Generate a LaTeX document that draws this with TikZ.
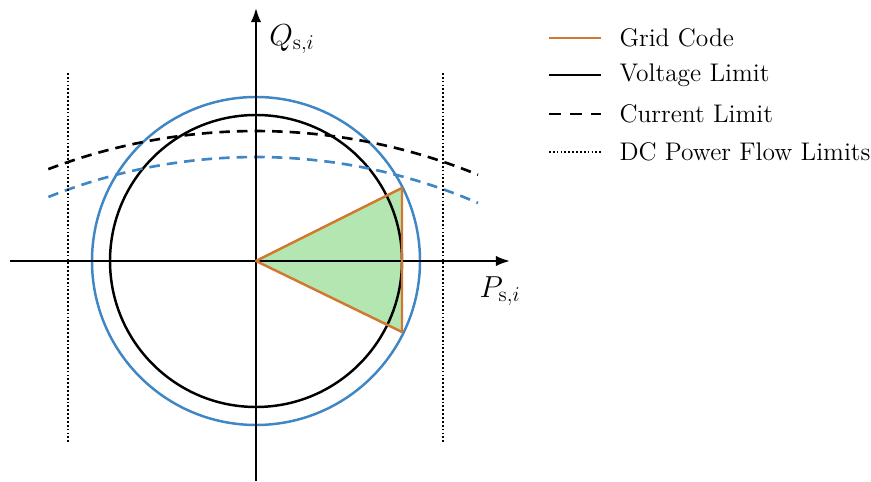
\documentclass[tikz,border=0pt]{standalone}
\usetikzlibrary{arrows.meta}
\definecolor{gcorange}{RGB}{210,119,47}
\definecolor{limblue}{RGB}{63,134,197}
\definecolor{gcgreen}{RGB}{179,230,176}
\begin{document}
\begin{tikzpicture}[line join=round,font=\fontsize{14.5}{17}\selectfont]
  \useasboundingbox (-5.12,-4.40) rectangle (12.30,5.22);
  \coordinate (O) at (0,0);
  \coordinate (U) at (2.92,1.46);
  \coordinate (L) at (2.92,-1.42);
  \coordinate (M) at (0,-9.10);
  \fill[gcgreen] (O) -- (U) -- (L) -- cycle;
  \draw[line width=1.4pt] (O) circle (2.92);
  \draw[limblue,line width=1.4pt] (O) circle (3.28);
  \draw[line width=1.5pt,dash pattern=on 6pt off 4pt] ([shift={(110.8:11.70)}]M) arc[start angle=110.8,end angle=67.7,radius=11.70];
  \draw[limblue,line width=1.5pt,dash pattern=on 6pt off 4pt] ([shift={(111.8:11.18)}]M) arc[start angle=111.8,end angle=66.6,radius=11.18];
  \draw[line width=1.2pt,dash pattern=on 1pt off 1.2pt] (-3.76,3.76) -- (-3.76,-3.64);
  \draw[line width=1.2pt,dash pattern=on 1pt off 1.2pt] (3.74,3.76) -- (3.74,-3.64);
  \coordinate (xl) at (-4.92,0);
  \coordinate (xr) at (5.08,0);
  \coordinate (yb) at (0,-4.40);
  \coordinate (yt) at (0,5.06);
  \draw[line width=1.3pt,-{Latex[length=8pt,width=6pt]}] (xl) -- (xr);
  \draw[line width=1.3pt,-{Latex[length=8pt,width=6pt]}] (yb) -- (yt);
  \draw[gcorange,line width=1.4pt] (O) -- (U) -- (L) -- cycle;
  \node[font=\fontsize{18}{20}\selectfont] (qlab) at (0.72,4.44) {$Q_{\mathrm{s},i}$};
  \node[font=\fontsize{18}{20}\selectfont] (plab) at (4.88,-0.60) {$P_{\mathrm{s},i}$};
  \coordinate (g1) at (5.86,4.46);
  \coordinate (g2) at (6.90,4.46);
  \coordinate (v1) at (5.86,3.72);
  \coordinate (v2) at (6.90,3.72);
  \coordinate (c1) at (5.86,2.94);
  \coordinate (c2) at (6.90,2.94);
  \coordinate (d1) at (5.86,2.18);
  \coordinate (d2) at (6.90,2.18);
  \draw[gcorange,line width=1.4pt] (g1) -- (g2);
  \draw[line width=1.4pt] (v1) -- (v2);
  \draw[line width=1.6pt,dash pattern=on 7pt off 5pt] (c1) -- (c2);
  \draw[line width=1.2pt,dash pattern=on 1pt off 1.2pt] (d1) -- (d2);
  \node[right=7pt] (leggrid) at (g2) {Grid Code};
  \node[right=7pt] (legvolt) at (v2) {Voltage Limit};
  \node[right=7pt] (legcurr) at (c2) {Current Limit};
  \node[right=7pt] (legdc) at (d2) {DC Power Flow Limits};
\end{tikzpicture}
\end{document}
